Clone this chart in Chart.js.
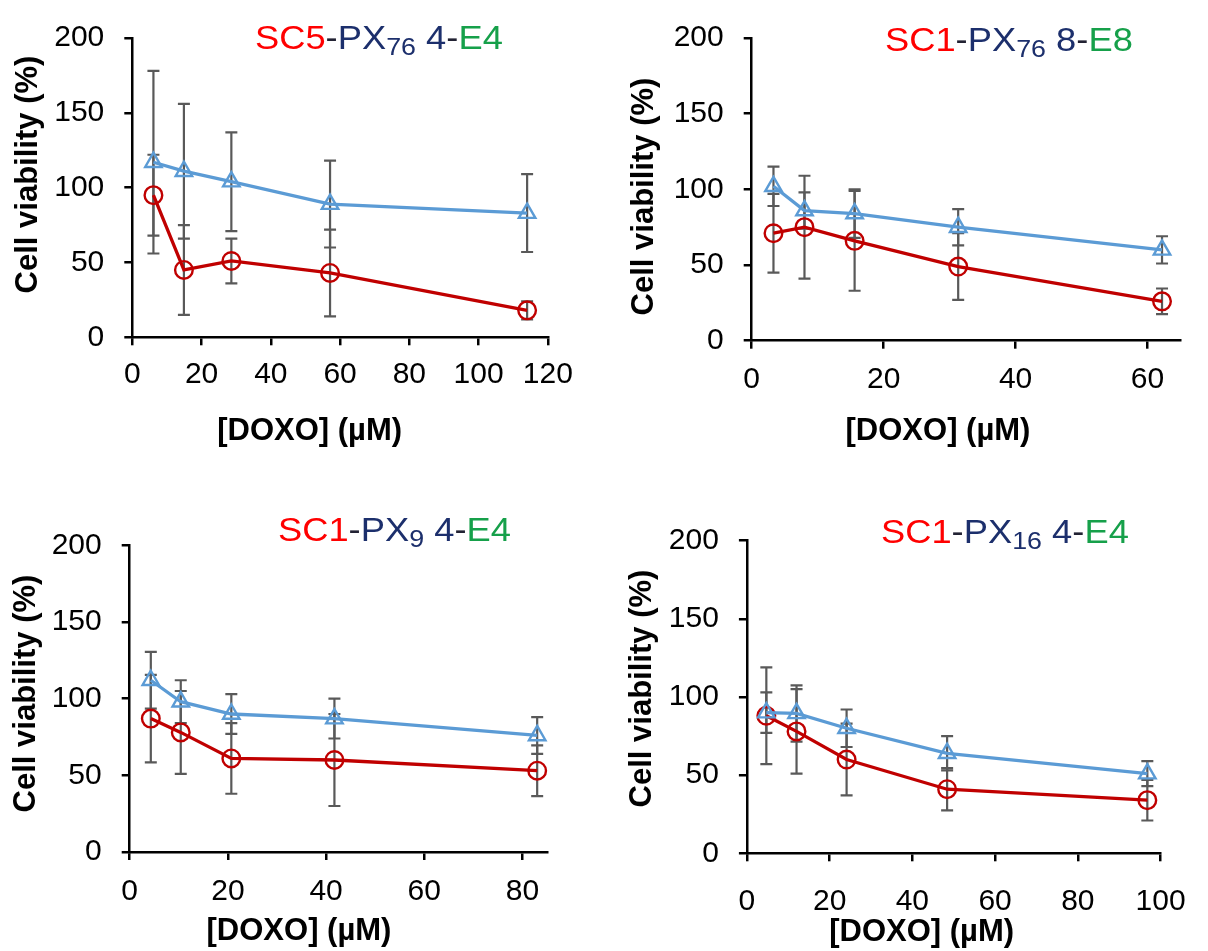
<!DOCTYPE html>
<html>
<head>
<meta charset="utf-8">
<script src="https://cdn.jsdelivr.net/npm/chart.js@4.4.1/dist/chart.umd.min.js"></script>
<style>
  body { margin: 0; background: #fff; }
  #page { position: relative; width: 1208px; height: 951px; overflow: hidden; font-family: "Liberation Sans", Arial, sans-serif; }
  canvas { position: absolute; }
  .ttl { position: absolute; white-space: nowrap; font-size: 33px; line-height: 33px; transform: scaleX(1.1); transform-origin: 0 0; }
  .ttl sub { font-size: 0.74em; vertical-align: -0.25em; line-height: 0; }
  .red { color: #ff0000; }
  .navy { color: #1c2f6c; }
  .dash { color: #222233; }
  .green { color: #16a04a; }
  .xt, .yt { position: absolute; width: 320px; text-align: center; font-weight: bold; font-size: 31px; line-height: 31px; color: #000; white-space: nowrap; }
  .yt { transform: rotate(-90deg); }
</style>
</head>
<body>
<div id="page">
  <canvas id="c1" width="600" height="470" style="left:0px;top:0px"></canvas>
  <canvas id="c2" width="608" height="470" style="left:600px;top:0px"></canvas>
  <canvas id="c3" width="600" height="476" style="left:0px;top:475px"></canvas>
  <canvas id="c4" width="608" height="476" style="left:600px;top:475px"></canvas>
</div>
<script>
// x = [DOXO] (µM), y = cell viability (%)
const conc1 = [6.1, 14.9, 28.6, 57.1, 114];
const blue1 = [117, 111, 104, 89, 83];
const blueErr1 = [61, 45, 33, 29, 26];
const red1 = [95, 45, 51, 43, 18];
const redErr1 = [27, 30, 15, 29, 6];

const conc2 = [3.3, 8, 15.6, 31.3, 62.2];
const blue2 = [102, 86, 84, 75, 60];
const blueErr2 = [13, 12, 16, 12, 9];
const red2 = [71, 75, 66, 49, 26];
const redErr2 = [26, 34, 33, 22, 8.5];

const conc3 = [4.3, 10.4, 20.7, 41.7, 83];
const blue3 = [112, 98, 90, 87, 76];
const blueErr3 = [18.5, 14, 13, 13, 12];
const red3 = [87, 78, 61, 60, 53];
const redErr3 = [28.5, 27, 23, 30, 16.5];

const conc4 = [4.7, 12, 24.1, 48.4, 96.8];
const blue4 = [90, 89.5, 80, 64, 51];
const blueErr4 = [13, 18, 12, 11, 8];
const red4 = [88, 78, 60, 41, 34];
const redErr4 = [31, 27, 23, 13.5, 13];

const xMaxes = [120, 65, 85, 100];
const xStep = 20;
const yMin = 0, yMax = 200, yStep = 50;

// title pieces: red part, subscript, number, green part
const titleParts = [
  ['SC5', '76', '4', 'E4'],
  ['SC1', '76', '8', 'E8'],
  ['SC1', '9', '4', 'E4'],
  ['SC1', '16', '4', 'E4']
];
const xTitle = '[DOXO] (µM)';
const yTitle = 'Cell viability (%)';

const BLUE = '#5b9bd5';
const RED = '#c00000';
const FONT = "'Liberation Sans', Arial, sans-serif";
Chart.defaults.font.family = FONT;

// where each panel sits on the page
const panels = [
  { id: 'c1', conc: conc1, blue: blue1, blueErr: blueErr1, red: red1, redErr: redErr1,
    yW: 132.3, padTop: 20, padRight: 52.1, xH: 132.7, xPad: 11.7,
    title: [254.5, 21.4], xt: [309.7, 413.5], yt: [26.1, 174] },
  { id: 'c2', conc: conc2, blue: blue2, blueErr: blueErr2, red: red2, redErr: redErr2,
    yW: 151.7, padTop: 20.7, padRight: 27.5, xH: 129.3, xPad: 13.3,
    title: [885, 22.8], xt: [938, 414], yt: [642.1, 196.5] },
  { id: 'c3', conc: conc3, blue: blue3, blueErr: blueErr3, red: red3, redErr: redErr3,
    yW: 129.7, padTop: 70.3, padRight: 53, xH: 99, xPad: 14,
    title: [277.5, 513.1], xt: [299, 914], yt: [24.1, 693.3] },
  { id: 'c4', conc: conc4, blue: blue4, blueErr: blueErr4, red: red4, redErr: redErr4,
    yW: 146.9, padTop: 65.7, padRight: 31.3, xH: 97.7, xPad: 22.4,
    title: [881, 515.4], xt: [921.7, 914.5], yt: [640, 688] }
];

const errorBars = {
  id: 'errorBars',
  beforeDatasetsDraw(chart) {
    const { ctx, scales: { x, y } } = chart;
    ctx.save();
    ctx.strokeStyle = '#595959';
    ctx.lineWidth = 2.2;
    chart.data.datasets.forEach(ds => {
      ds.data.forEach((p, i) => {
        const e = ds.errors[i];
        const px = x.getPixelForValue(p.x);
        const top = y.getPixelForValue(p.y + e);
        const bot = y.getPixelForValue(p.y - e);
        ctx.beginPath();
        ctx.moveTo(px, top); ctx.lineTo(px, bot);
        ctx.moveTo(px - 6, top); ctx.lineTo(px + 6, top);
        ctx.moveTo(px - 6, bot); ctx.lineTo(px + 6, bot);
        ctx.stroke();
      });
    });
    ctx.restore();
  }
};

function pts(xs, ys) {
  return xs.map((v, i) => ({ x: v, y: ys[i] }));
}

function axisGrid() {
  return { drawOnChartArea: false, tickLength: 8, color: '#000', lineWidth: 2.5 };
}

const page = document.getElementById('page');

panels.forEach((p, k) => {
  new Chart(document.getElementById(p.id), {
    type: 'line',
    data: {
      datasets: [
        {
          data: pts(p.conc, p.blue),
          errors: p.blueErr,
          borderColor: BLUE,
          borderWidth: 3.3,
          pointStyle: 'triangle',
          pointRadius: 9.5,
          pointBorderWidth: 2.4,
          pointBorderColor: BLUE,
          pointBackgroundColor: 'rgba(0,0,0,0)',
          clip: false
        },
        {
          data: pts(p.conc, p.red),
          errors: p.redErr,
          borderColor: RED,
          borderWidth: 3.3,
          pointStyle: 'circle',
          pointRadius: 8.8,
          pointBorderWidth: 2.4,
          pointBorderColor: RED,
          pointBackgroundColor: 'rgba(0,0,0,0)',
          clip: false
        }
      ]
    },
    options: {
      responsive: false,
      animation: false,
      events: [],
      layout: { padding: { left: 0, top: p.padTop, right: p.padRight, bottom: 0 } },
      plugins: { legend: { display: false }, tooltip: { enabled: false } },
      scales: {
        x: {
          type: 'linear',
          min: 0,
          max: xMaxes[k],
          ticks: { stepSize: xStep, includeBounds: false, padding: p.xPad, color: '#000',
                   autoSkip: false, maxRotation: 0, font: { size: 30 } },
          afterFit: s => { s.height = p.xH; },
          grid: axisGrid(),
          border: { color: '#000', width: 2.5 }
        },
        y: {
          min: yMin,
          max: yMax,
          ticks: { stepSize: yStep, padding: 20, color: '#000', font: { size: 30 } },
          afterFit: s => { s.width = p.yW; },
          grid: axisGrid(),
          border: { color: '#000', width: 2.5 }
        }
      }
    },
    plugins: [errorBars]
  });

  const [r, sub, num, green] = titleParts[k];
  const t = document.createElement('div');
  t.className = 'ttl';
  t.style.left = p.title[0] + 'px';
  t.style.top = p.title[1] + 'px';
  t.innerHTML = '<span class="red">' + r + '</span><span class="dash">-</span>' +
    '<span class="navy">PX<sub>' + sub + '</sub> ' + num + '</span><span class="dash">-</span>' +
    '<span class="green">' + green + '</span>';
  page.appendChild(t);

  const xt = document.createElement('div');
  xt.className = 'xt';
  xt.textContent = xTitle;
  xt.style.left = (p.xt[0] - 160) + 'px';
  xt.style.top = p.xt[1] + 'px';
  page.appendChild(xt);

  const yt = document.createElement('div');
  yt.className = 'yt';
  yt.textContent = yTitle;
  yt.style.left = (p.yt[0] - 160) + 'px';
  yt.style.top = (p.yt[1] - 15.5) + 'px';
  page.appendChild(yt);
});
</script>
</body>
</html>
